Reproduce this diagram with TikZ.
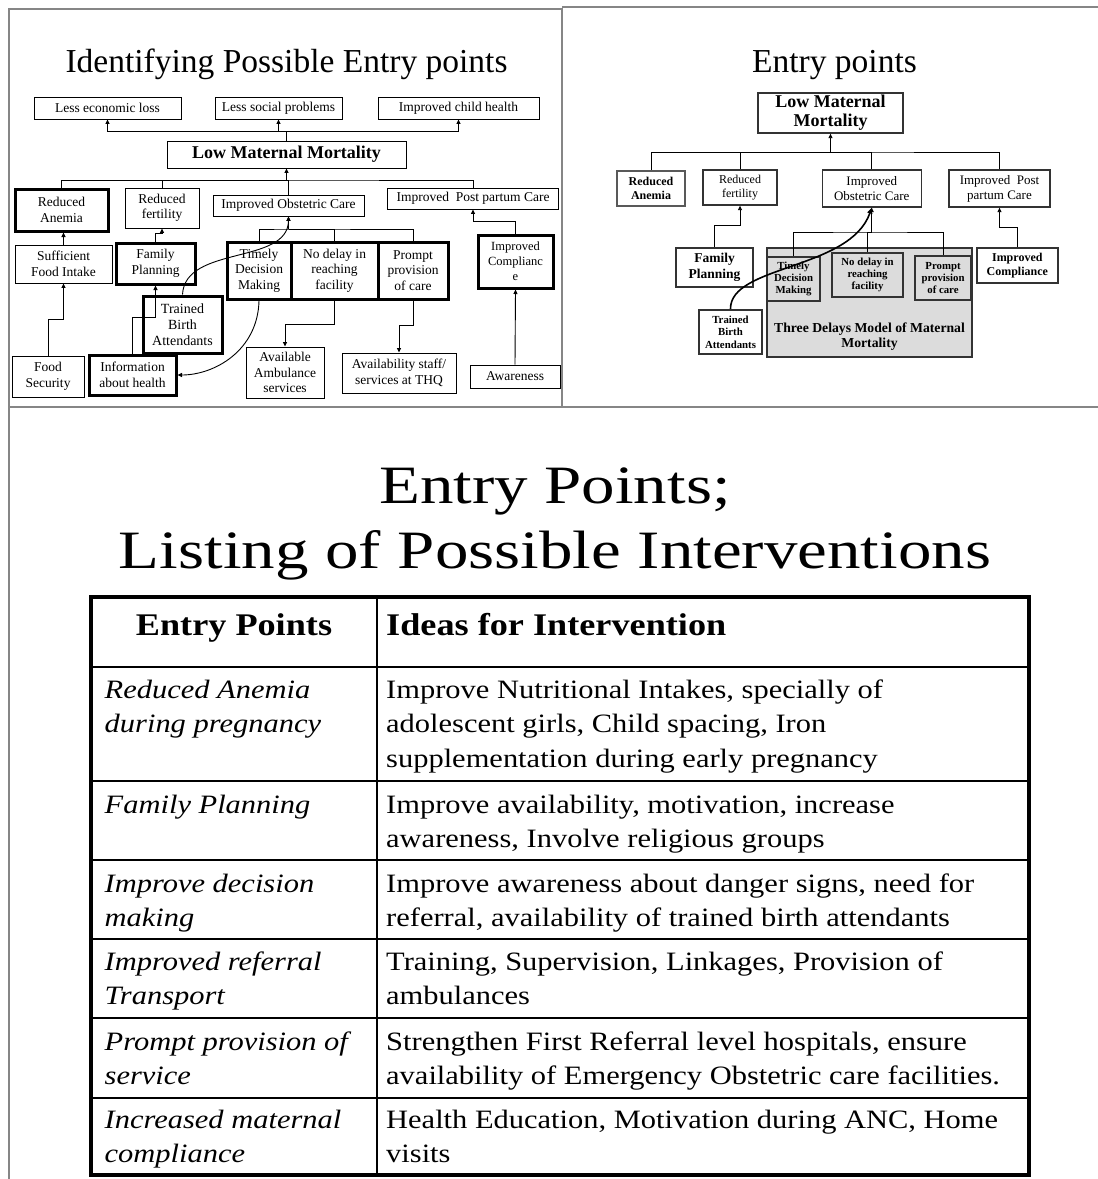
\documentclass[tikz,border=0pt]{standalone}
\usepackage{fontspec}
\setmainfont{Liberation Serif}
\newfontfamily\tabfont[FakeStretch=1.15]{Liberation Serif}
\newfontfamily\headfont[FakeStretch=1.24]{Liberation Serif}
\usetikzlibrary{arrows.meta}
\definecolor{delaygrey}{HTML}{DCDCDC}
\definecolor{framegrey}{HTML}{868686}

\begin{document}
\begin{tikzpicture}[
  x=1pt,
  y=-1pt,
  ttl/.style={anchor=base, inner sep=0pt, font=\fontsize{33.5}{40}\selectfont},
  lbox/.style={
    rectangle,
    draw=black,
    line width=0.9pt,
    inner sep=0pt,
    align=center,
    font=\fontsize{13.5}{15.5}\selectfont
  },
  lkey/.style={lbox, line width=3pt},
  rbox/.style={
    rectangle,
    draw=black!80,
    line width=1.3pt,
    inner sep=0pt,
    align=center,
    font=\fontsize{13}{15}\selectfont
  },
  rkey/.style={rbox, line width=2pt, font=\fontsize{10.8}{12.4}\selectfont\bfseries},
  delay/.style={rkey, fill=delaygrey},
  arrow/.style={-{Triangle[length=4.5pt,width=4pt]}, line width=0.9pt},
  arrowb/.style={-{Triangle[length=6pt,width=5pt]}, line width=1.6pt},
  link/.style={line width=0.9pt},
  frame/.style={draw=framegrey, line width=2.5pt},
  rule/.style={line width=1.3pt},
  cellhead/.style={inner sep=0pt, font=\tabfont\bfseries\fontsize{31.5}{36}\selectfont},
  cellentry/.style={anchor=base west, align=left, inner sep=0pt, font=\tabfont\itshape\fontsize{26.5}{34.5}\selectfont},
  cellidea/.style={anchor=base west, align=left, inner sep=0pt, font=\tabfont\fontsize{26.5}{34.5}\selectfont}
]
\useasboundingbox (0,0) rectangle (1098,1179);

\draw[frame] (9,9) rectangle (562,407);
\draw[frame] (562,7) -- (1098,7);
\draw[frame] (562,407) -- (1098,407);
\draw[frame] (9,407) -- (9,1179);

\node[ttl] (lttl) at (286.5,72) {Identifying Possible Entry points};
\node[ttl] (rttl) at (834.5,72) {Entry points};

\node[lbox, minimum width=147, minimum height=22] (lecon) at (107.5,108) {Less economic loss};
\node[lbox, minimum width=127, minimum height=22] (lsoc) at (278.5,108) {Less social problems};
\node[lbox, minimum width=161, minimum height=22] (lchild) at (458.5,108) {Improved child health};
\node[lbox, minimum width=239, minimum height=27, font=\fontsize{18}{20}\selectfont\bfseries] (lmm) at (286.5,154.5) {Low Maternal Mortality};

\node[lkey, minimum width=93, minimum height=42] (lanem) at (61.5,210) {Reduced\\Anemia};
\node[lbox, minimum width=74, minimum height=40] (lfert) at (162,208) {Reduced\\fertility};
\node[lbox, minimum width=151, minimum height=21] (lobst) at (288.5,205.5) {Improved Obstetric Care};
\node[lbox, minimum width=171, minimum height=21] (lpost) at (473,198.5) {Improved~ Post partum Care};

\node[lbox, minimum width=97, minimum height=38] (lfood) at (63.5,264) {Sufficient\\Food Intake};
\node[lkey, minimum width=79, minimum height=41] (lfp) at (155.5,263.5) {Family\\Planning};
\node[lkey, minimum width=64, minimum height=57] (ltdm) at (259,270.5) {Timely\\Decision\\Making};
\node[lkey, minimum width=87, minimum height=57] (lnod) at (334.5,270.5) {No delay in\\reaching\\facility};
\node[lkey, minimum width=70, minimum height=57] (lppc) at (413,270.5) {Prompt\\provision\\of care};
\node[lkey, minimum width=75, minimum height=53, font=\fontsize{12.5}{15}\selectfont] (lcomp) at (515.5,261.5) {Improved\\Complianc\\e};

\node[lkey, minimum width=79, minimum height=57, font=\fontsize{14}{16}\selectfont] (ltba) at (182.5,324.5) {Trained\\Birth\\Attendants};
\node[lkey, minimum width=87, minimum height=40] (linfo) at (132.5,375) {Information\\about health};
\node[lbox, minimum width=72, minimum height=41] (lfsec) at (48,376.5) {Food\\Security};
\node[lbox, minimum width=78, minimum height=51] (lamb) at (285,372.5) {Available\\Ambulance\\services};
\node[lbox, minimum width=114, minimum height=40] (lstaff) at (399,373) {Availability staff/\\services at THQ};
\node[lbox, minimum width=90, minimum height=23] (laware) at (515,376.5) {Awareness};

\coordinate (ltop) at (286.5,131);
\coordinate (lbus) at (286.5,180);
\coordinate (ldel) at (288.5,229);

\draw[arrow] (lmm.north) -- (ltop) -| (lecon.south);
\draw[arrow] (ltop) -| (lchild.south);
\draw[arrow] (ltop) -| (lsoc.south);
\draw[arrow] (lbus) -- (lmm.south);
\draw[link] (lanem.north) |- (lbus) -| (lpost.north);
\draw[link] (lfert.north) |- (lbus);
\draw[link] (lobst.north) |- (lbus);
\draw[arrow] (lfood.north) -- (lfood.north |- lanem.south);
\draw[arrow] (lfp.north) -- ++(0,-8) -| (lfert.south);
\draw[arrow] (lfsec.north) -- ++(0,-36) -| (lfood.south);
\draw[arrow] (linfo.north) -- ++(0,-36) -| (lfp.south);
\draw[arrow] (ldel) -- (lobst.south);
\draw[link] (ltdm.north) |- (ldel) -| (lppc.north);
\draw[link] (lnod.north) |- (ldel);
\draw[arrow] (lnod.south) -- ++(0,24) -| (lamb.north);
\draw[arrow] (lppc.south) -- ++(0,25) -| (lstaff.north);
\draw[arrow] (laware.north) -- (lcomp.south);
\draw[arrow] (lcomp.north) -- ++(0,-12) -| (lpost.south);
\draw[arrow] (ltba.north) .. controls (185,245) and (288,265) .. (lobst.south);
\draw[arrow] (ltdm.south) .. controls (258,350) and (215,375) .. (linfo.east);

\node[rbox, minimum width=145, minimum height=40, font=\fontsize{18}{19}\selectfont\bfseries] (rmm) at (830.5,113) {Low Maternal\\Mortality};
\node[rbox, line width=2.6pt, draw=black!65, minimum width=68, minimum height=35, font=\fontsize{12}{14}\selectfont\bfseries] (ranem) at (651,188.5) {Reduced\\Anemia};
\node[rbox, minimum width=74, minimum height=35, font=\fontsize{12}{14}\selectfont] (rfert) at (740,187.5) {Reduced\\fertility};
\node[rbox, minimum width=99, minimum height=37] (robst) at (871.75,188.5) {Improved\\Obstetric Care};
\node[rbox, minimum width=101, minimum height=37] (rpost) at (999.5,188.5) {Improved~ Post\\partum Care};

\node[rkey, minimum width=77, minimum height=39, font=\fontsize{13.5}{16.5}\selectfont\bfseries] (rfp) at (714.5,267.5) {Family\\Planning};
\node[delay, minimum width=205, minimum height=109] (rdelay) at (869.5,302.5) {};
\node[inner sep=0pt, align=center, font=\fontsize{13.7}{15}\selectfont\bfseries] (rdtxt) at (869.5,337) {Three Delays Model of Maternal\\Mortality};
\node[delay, minimum width=53, minimum height=44] (rtdm) at (793.5,279) {Timely\\Decision\\Making};
\node[delay, minimum width=71, minimum height=44] (rnod) at (867.5,275) {No delay in\\reaching\\facility};
\node[delay, minimum width=56, minimum height=44] (rppc) at (943,278) {Prompt\\provision\\of care};
\node[rkey, minimum width=81, minimum height=35, font=\fontsize{12}{14}\selectfont\bfseries] (rcomp) at (1017.3,265.5) {Improved\\Compliance};
\node[rkey, minimum width=63, minimum height=44] (rtba) at (730.5,332) {Trained\\Birth\\Attendants};

\coordinate (rbus) at (830.5,152);
\coordinate (rdel) at (871.75,232);

\draw[arrow] (rbus) -- (rmm.south);
\draw[link] (ranem.north) |- (rbus) -| (rpost.north);
\draw[link] (rfert.north) |- (rbus);
\draw[link] (robst.north) |- (rbus);
\draw[arrow] (rfp.north) -- ++(0,-22) -| (rfert.south);
\draw[arrow] (rcomp.north) -- ++(0,-20) -| (rpost.south);
\draw[arrow] (rdel) -- (robst.south);
\draw[link] (rtdm.north) |- (rdel) -| (rppc.north);
\draw[link] (rnod.north) |- (rdel);
\draw[arrowb] (rtba.north) .. controls (730,265) and (850,270) .. (robst.south);

\node[align=center, anchor=base, inner sep=0pt, font=\headfont\fontsize{54}{65}\selectfont] (bigttl) at (555,568) {Entry Points;\\Listing of Possible Interventions};

\draw[line width=3.5pt] (91,597) rectangle (1029,1175);
\draw[rule] (377,597) -- (377,1175);
\foreach \yy in {667,781,860,939,1018,1098}
  \draw[rule] (91,\yy) -- (1029,\yy);

\node[cellhead, anchor=base] (hentry) at (234,635) {Entry Points};
\node[cellhead, anchor=base west] (hidea) at (386,635) {Ideas for Intervention};

\node[cellentry] (e1) at (104.5,732.5) {Reduced Anemia\\during pregnancy};
\node[cellidea] (i1) at (386,767) {Improve Nutritional Intakes, specially of\\adolescent girls, Child spacing, Iron\\supplementation during early pregnancy};
\node[cellentry] (e2) at (104.5,813) {Family Planning};
\node[cellidea] (i2) at (386,847.5) {Improve availability, motivation, increase\\awareness, Involve religious groups};
\node[cellentry] (e3) at (104.5,926.5) {Improve decision\\making};
\node[cellidea] (i3) at (386,926.5) {Improve awareness about danger signs, need for\\referral, availability of trained birth attendants};
\node[cellentry] (e4) at (104.5,1004.5) {Improved referral\\Transport};
\node[cellidea] (i4) at (386,1004.5) {Training, Supervision, Linkages, Provision of\\ambulances};
\node[cellentry] (e5) at (104.5,1084.5) {Prompt provision of\\service};
\node[cellidea] (i5) at (386,1084.5) {Strengthen First Referral level hospitals, ensure\\availability of Emergency Obstetric care facilities.};
\node[cellentry] (e6) at (104.5,1162.5) {Increased maternal\\compliance};
\node[cellidea] (i6) at (386,1162.5) {Health Education, Motivation during ANC, Home\\visits};
\end{tikzpicture}
\end{document}
